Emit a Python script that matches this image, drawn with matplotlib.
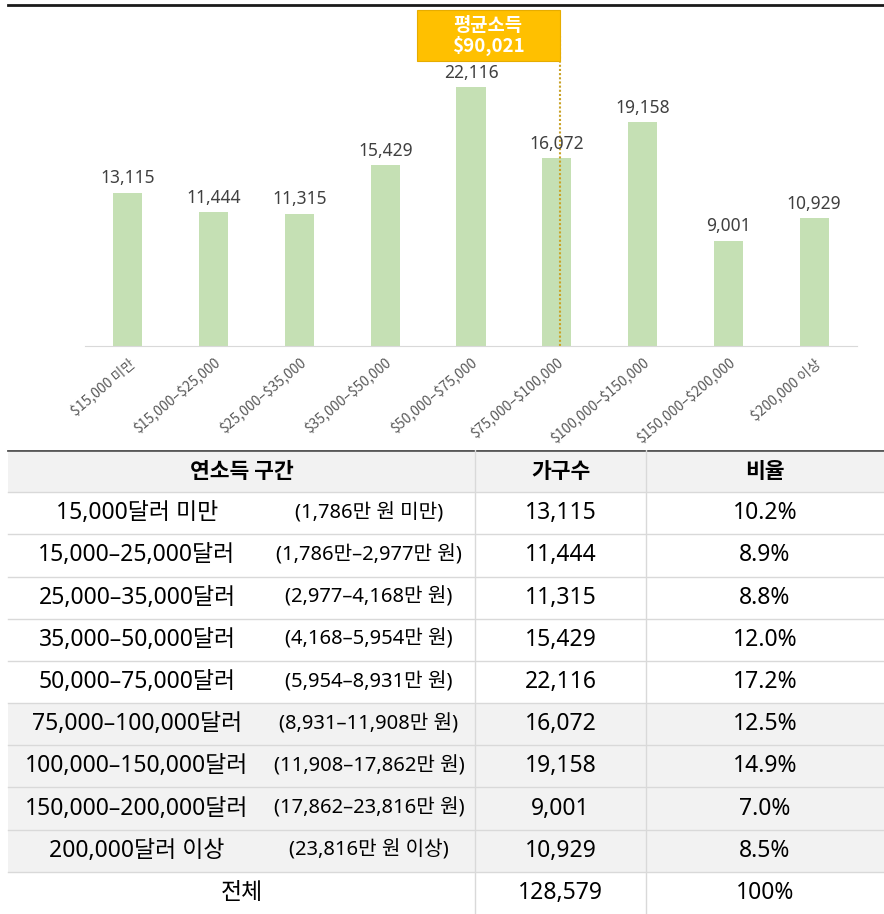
import numpy as np
import matplotlib.pyplot as plt
from matplotlib.patches import Rectangle

plt.rcParams['font.family'] = ['Noto Sans CJK KR', 'DejaVu Sans']

# data
categories = ['\\$15,000 미만', '\\$15,000–\\$25,000', '\\$25,000–\\$35,000', '\\$35,000–\\$50,000',
              '\\$50,000–\\$75,000', '\\$75,000–\\$100,000', '\\$100,000–\\$150,000',
              '\\$150,000–\\$200,000', '\\$200,000 이상']
households = [13115, 11444, 11315, 15429, 22116, 16072, 19158, 9001, 10929]
shares = [10.2, 8.9, 8.8, 12.0, 17.2, 12.5, 14.9, 7.0, 8.5]
usd_ranges = ['15,000달러 미만', '15,000–25,000달러', '25,000–35,000달러', '35,000–50,000달러',
              '50,000–75,000달러', '75,000–100,000달러', '100,000–150,000달러',
              '150,000–200,000달러', '200,000달러 이상']
krw_ranges = ['(1,786만 원 미만)', '(1,786만–2,977만 원)', '(2,977–4,168만 원)', '(4,168–5,954만 원)',
              '(5,954–8,931만 원)', '(8,931–11,908만 원)', '(11,908–17,862만 원)',
              '(17,862–23,816만 원)', '(23,816만 원 이상)']
bin_low, bin_high = 75000, 100000   # bin holding the average
avg_bin = 5
avg_income = 90021
total_households = 128579
header = ['연소득 구간', '가구수', '비율']

W, H = 884, 914
fig = plt.figure(figsize=(W / 100, H / 100), dpi=100)
latin = ['Noto Sans', 'Noto Sans CJK KR']

# ---- bar chart ----
ax = fig.add_axes([85 / W, (H - 346) / H, 772 / W, 316 / H])
x = np.arange(len(categories))
bw = 0.34
ax.bar(x, households, width=bw, color='#c5e0b4')
for xi, v in zip(x, households):
    ax.text(xi, v + 450, f'{v:,}', ha='center', va='bottom', fontsize=12.5,
            color='#404040', family=latin)
ax.set_xlim(-0.5, len(categories) - 0.5)
ax.set_ylim(0, 27000)
ax.set_yticks([])
ax.set_xticks(x)
ax.set_xticklabels(categories, rotation=40, ha='right', rotation_mode='anchor',
                   fontsize=10, color='#595959')
ax.tick_params(axis='x', length=0, pad=7)
for s in ['top', 'left', 'right']:
    ax.spines[s].set_visible(False)
ax.spines['bottom'].set_color('#d9d9d9')

# average marker
frac = (avg_income - bin_low) / (bin_high - bin_low)
ax_avg = avg_bin - bw / 2 + frac * bw
ax.plot([ax_avg, ax_avg], [0, 26500], ls=(0, (1, 1)), color='#c9a227', lw=1.5, clip_on=False)
box_w = 143 / 85.75
ax.add_patch(Rectangle((ax_avg - box_w, 24330), box_w, 4360, facecolor='#ffc000',
                       edgecolor='#e6ac00', lw=0.8, clip_on=False, zorder=5))
ax.text(ax_avg - box_w / 2, 26510, f'평균소득\n\\${avg_income:,}', ha='center', va='center',
        color='white', fontsize=13.5, fontweight='bold', linespacing=1.05, zorder=6)

# top rule
fig.add_artist(plt.Line2D([8 / W, 1], [1 - 5 / H, 1 - 5 / H], color='#1a1a1a', lw=2))

# ---- table ----
tb = fig.add_axes([0, 0, 1, 464 / H])
tb.set_xlim(0, W)
tb.set_ylim(11, 0)
tb.axis('off')
xl, xc1, xc2, xr = 8, 475, 646, W
gray = '#f2f2f2'
line = '#d9d9d9'

tb.add_patch(Rectangle((xl, 0), xr - xl, 1, color=gray, lw=0))
for r in range(5, 9):
    tb.add_patch(Rectangle((xl, r + 1), xr - xl, 1, color=gray, lw=0))
for r in range(1, 11):
    tb.plot([xl, xr], [r, r], color=line, lw=1)
tb.plot([xl, xr], [0.01, 0.01], color='#595959', lw=2)
for xv in (xc1, xc2):
    tb.plot([xv, xv], [0, 11], color=line, lw=1)

fs = 16.5
col2 = (xc1 + xc2) / 2
col3 = (xc2 + xr) / 2
tb.text((xl + xc1) / 2, 0.5, header[0], ha='center', va='center', fontsize=15.5, fontweight='bold')
tb.text(col2, 0.5, header[1], ha='center', va='center', fontsize=15.5, fontweight='bold')
tb.text(col3, 0.5, header[2], ha='center', va='center', fontsize=15.5, fontweight='bold')
for i in range(len(households)):
    y = i + 1.5
    tb.text(137, y, usd_ranges[i], ha='center', va='center', fontsize=fs, family=latin)
    tb.text(369, y, krw_ranges[i], ha='center', va='center', fontsize=14.5, family=latin)
    tb.text(col2, y, f'{households[i]:,}', ha='center', va='center', fontsize=fs, family=latin)
    tb.text(col3, y, f'{shares[i]:.1f}%', ha='center', va='center', fontsize=fs, family=latin)
tb.text((xl + xc1) / 2, 10.5, '전체', ha='center', va='center', fontsize=fs)
tb.text(col2, 10.5, f'{total_households:,}', ha='center', va='center', fontsize=fs, family=latin)
tb.text(col3, 10.5, '100%', ha='center', va='center', fontsize=fs, family=latin)

fig.savefig('out.png', dpi=100)
